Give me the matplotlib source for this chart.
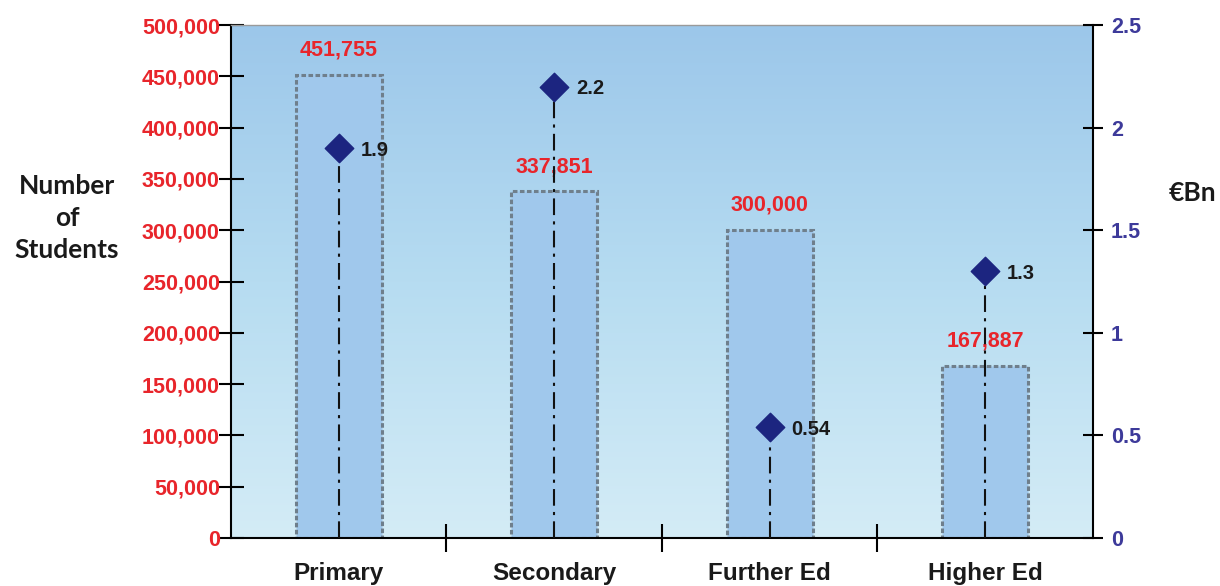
import numpy as np
import matplotlib
matplotlib.use("Agg")
import matplotlib.pyplot as plt
from matplotlib.colors import LinearSegmentedColormap

categories = ["Primary", "Secondary", "Further Ed", "Higher Ed"]
students = [451755, 337851, 300000, 167887]
student_labels = ["451,755", "337,851", "300,000", "167,887"]
spend = [1.9, 2.2, 0.54, 1.3]
spend_labels = ["1.9", "2.2", "0.54", "1.3"]
left_ticks = [0, 50000, 100000, 150000, 200000, 250000, 300000, 350000, 400000, 450000, 500000]
left_ticklabels = ["0", "50,000", "100,000", "150,000", "200,000", "250,000",
                   "300,000", "350,000", "400,000", "450,000", "500,000"]
right_ticks = [0, 0.5, 1, 1.5, 2, 2.5]
right_ticklabels = ["0", "0.5", "1", "1.5", "2", "2.5"]

NARROW = ["Liberation Sans Narrow", "Liberation Sans", "DejaVu Sans"]
WIDE = ["Liberation Sans", "DejaVu Sans"]
RED = "#e8252b"
PURPLE = "#3d3a9a"
NAVY = "#1c2580"

fig = plt.figure(figsize=(12.2, 5.86), dpi=100)
ax = fig.add_axes([0.1893, 0.0819, 0.7066, 0.8754])

# gradient background
cmap = LinearSegmentedColormap.from_list("bg", ["#d4ecf6", "#b6dcf1", "#9cc7ea"])
grad = np.linspace(0, 1, 256).reshape(-1, 1)
ax.imshow(grad, aspect="auto", cmap=cmap, origin="lower",
          extent=[0, 1, 0, 1], transform=ax.transAxes, zorder=0)

x = np.arange(len(categories))
ax.bar(x, students, width=0.40, color="#a0c8ec", edgecolor="#6f7f8c",
       linewidth=2.2, linestyle=(0, (1.5, 0.8)), zorder=2)
for xi, v, lab in zip(x, students, student_labels):
    ax.text(xi, v + 14000, lab, ha="center", va="bottom", color=RED,
            fontsize=15.5, fontweight="bold", family=NARROW, zorder=5)

ax.set_xlim(-0.5, 3.5)
ax.set_ylim(0, 500000)
ax.set_yticks(left_ticks)
ax.set_yticklabels(left_ticklabels, color=RED, fontsize=15.5, fontweight="bold", family=NARROW)
ax.tick_params(axis="y", direction="inout", length=18, width=1.5, pad=-1)
ax.set_xticks(x)
ax.set_xticklabels(categories, fontsize=17.5, fontweight="bold", family=WIDE, color="#1a1a1a")
ax.tick_params(axis="x", length=0, pad=17)
ax.set_xticks([0.5, 1.5, 2.5], minor=True)
ax.tick_params(axis="x", which="minor", direction="inout", length=20, width=1.5)

ax.spines["top"].set_color("#9a9a9a")
ax.spines["top"].set_linewidth(1)
ax.spines["right"].set_visible(False)
ax.spines["left"].set_linewidth(1.5)
ax.spines["bottom"].set_linewidth(1.5)

ax2 = ax.twinx()
ax2.set_ylim(0, 2.5)
ax2.set_yticks(right_ticks)
ax2.set_yticklabels(right_ticklabels, color=PURPLE, fontsize=15.5, fontweight="bold", family=NARROW)
ax2.tick_params(axis="y", direction="inout", length=14, width=1.5, pad=6)
ax2.spines["top"].set_visible(False)
ax2.spines["left"].set_visible(False)
ax2.spines["bottom"].set_visible(False)
ax2.spines["right"].set_linewidth(1.5)

for xi, v, lab in zip(x, spend, spend_labels):
    ax2.plot([xi, xi], [0, v], color="#111111", linewidth=1.5,
             linestyle=(0, (8, 3, 1.5, 3)), zorder=3)
    ax2.text(xi + 0.1, v - 0.01, lab, ha="left", va="center", color="#1a1a1a",
             fontsize=14.5, fontweight="bold", family=NARROW)
ax2.scatter(x, spend, marker="D", s=210, color=NAVY, zorder=4)

fig.text(0.055, 0.628, "Number\nof\nStudents", ha="center", va="center",
         fontsize=19, fontweight="bold", family=["Lato", "DejaVu Sans"],
         linespacing=1.4, color="#1a1a1a")
fig.text(0.9775, 0.671, "€Bn", ha="center", va="center",
         fontsize=19, fontweight="bold", family=["Lato", "DejaVu Sans"], color="#1a1a1a")

fig.savefig("out.png", dpi=100)
